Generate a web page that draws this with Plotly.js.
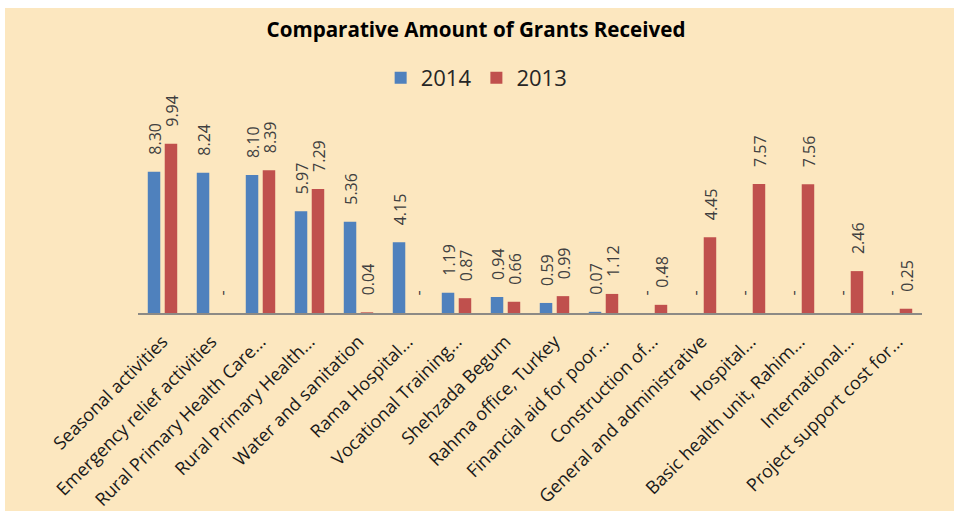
<!DOCTYPE html>
<html>
<head>
<meta charset="utf-8">
<script src="https://cdn.plot.ly/plotly-3.0.1.min.js"></script>
<style>
  html, body { margin: 0; padding: 0; background: #ffffff; }
  #chart { position: absolute; left: 5px; top: 8px; width: 949px; height: 503px; }
</style>
</head>
<body>
<div id="chart"></div>
<script>
const categories = [
  "Seasonal activities",
  "Emergency relief activities",
  "Rural Primary Health Care...",
  "Rural Primary Health...",
  "Water and sanitation",
  "Rama Hospital...",
  "Vocational Training...",
  "Shehzada Begum",
  "Rahma office, Turkey",
  "Financial aid for poor...",
  "Construction of...",
  "General and administrative",
  "Hospital...",
  "Basic health unit, Rahim...",
  "International...",
  "Project support cost for..."
];
const values2014 = [8.30, 8.24, 8.10, 5.97, 5.36, 4.15, 1.19, 0.94, 0.59, 0.07, null, null, null, null, null, null];
const values2013 = [9.94, null, 8.39, 7.29, 0.04, null, 0.87, 0.66, 0.99, 1.12, 0.48, 4.45, 7.57, 7.56, 2.46, 0.25];
const seriesNames = ["2014", "2013"];
const seriesColors = ["#4F81BD", "#C0504D"];

const allSeries = [values2014, values2013];
const offsets = [-8.5, 8.5];

const traces = allSeries.map((vals, k) => ({
  type: "bar",
  name: seriesNames[k],
  x: categories,
  y: vals.map(v => v === null ? 0 : v),
  marker: { color: seriesColors[k] },
  hoverinfo: "x+y+name"
}));

const annotations = [];
allSeries.forEach((vals, k) => {
  vals.forEach((v, i) => {
    annotations.push({
      x: categories[i],
      y: v === null ? 0 : v,
      xref: "x", yref: "y",
      text: v === null ? "-" : v.toFixed(2),
      textangle: -90,
      showarrow: false,
      xanchor: "center",
      yanchor: "bottom",
      xshift: offsets[k] + 1,
      yshift: 15,
      font: { family: "Open Sans, sans-serif", size: 16, color: "#404040" }
    });
  });
});

const layout = {
  width: 949,
  height: 503,
  paper_bgcolor: "#FCE7BF",
  plot_bgcolor: "#FCE7BF",
  margin: { l: 132.5, r: 32, t: 100, b: 197.5, pad: 0 },
  title: {
    text: "<b>Comparative Amount of Grants Received</b>",
    x: 0.4963, xanchor: "center",
    y: 0.9563, yanchor: "middle",
    xref: "container", yref: "container",
    font: { family: "Open Sans, sans-serif", size: 20.6, color: "#000000" }
  },
  showlegend: true,
  legend: {
    orientation: "h",
    x: 0.497, xanchor: "center",
    y: 0.861, yanchor: "middle",
    xref: "container", yref: "container",
    bgcolor: "rgba(0,0,0,0)",
    font: { family: "Open Sans, sans-serif", size: 22, color: "#262626" },
    itemwidth: 30,
    traceorder: "normal"
  },
  barmode: "group",
  bargap: 0.308,
  bargroupgap: 0.263,
  xaxis: {
    type: "category",
    showline: true,
    linecolor: "#8C8A85",
    linewidth: 2,
    ticks: "",
    tickangle: -45,
    ticklabelstandoff: 9,
    showgrid: false,
    zeroline: false,
    tickfont: { family: "Open Sans, sans-serif", size: 18, color: "#1A1A1A" }
  },
  yaxis: {
    range: [0, 12.04],
    visible: false,
    showgrid: false,
    zeroline: false
  },
  annotations: annotations
};

Plotly.newPlot("chart", traces, layout, { displayModeBar: false, staticPlot: true });
</script>
</body>
</html>
